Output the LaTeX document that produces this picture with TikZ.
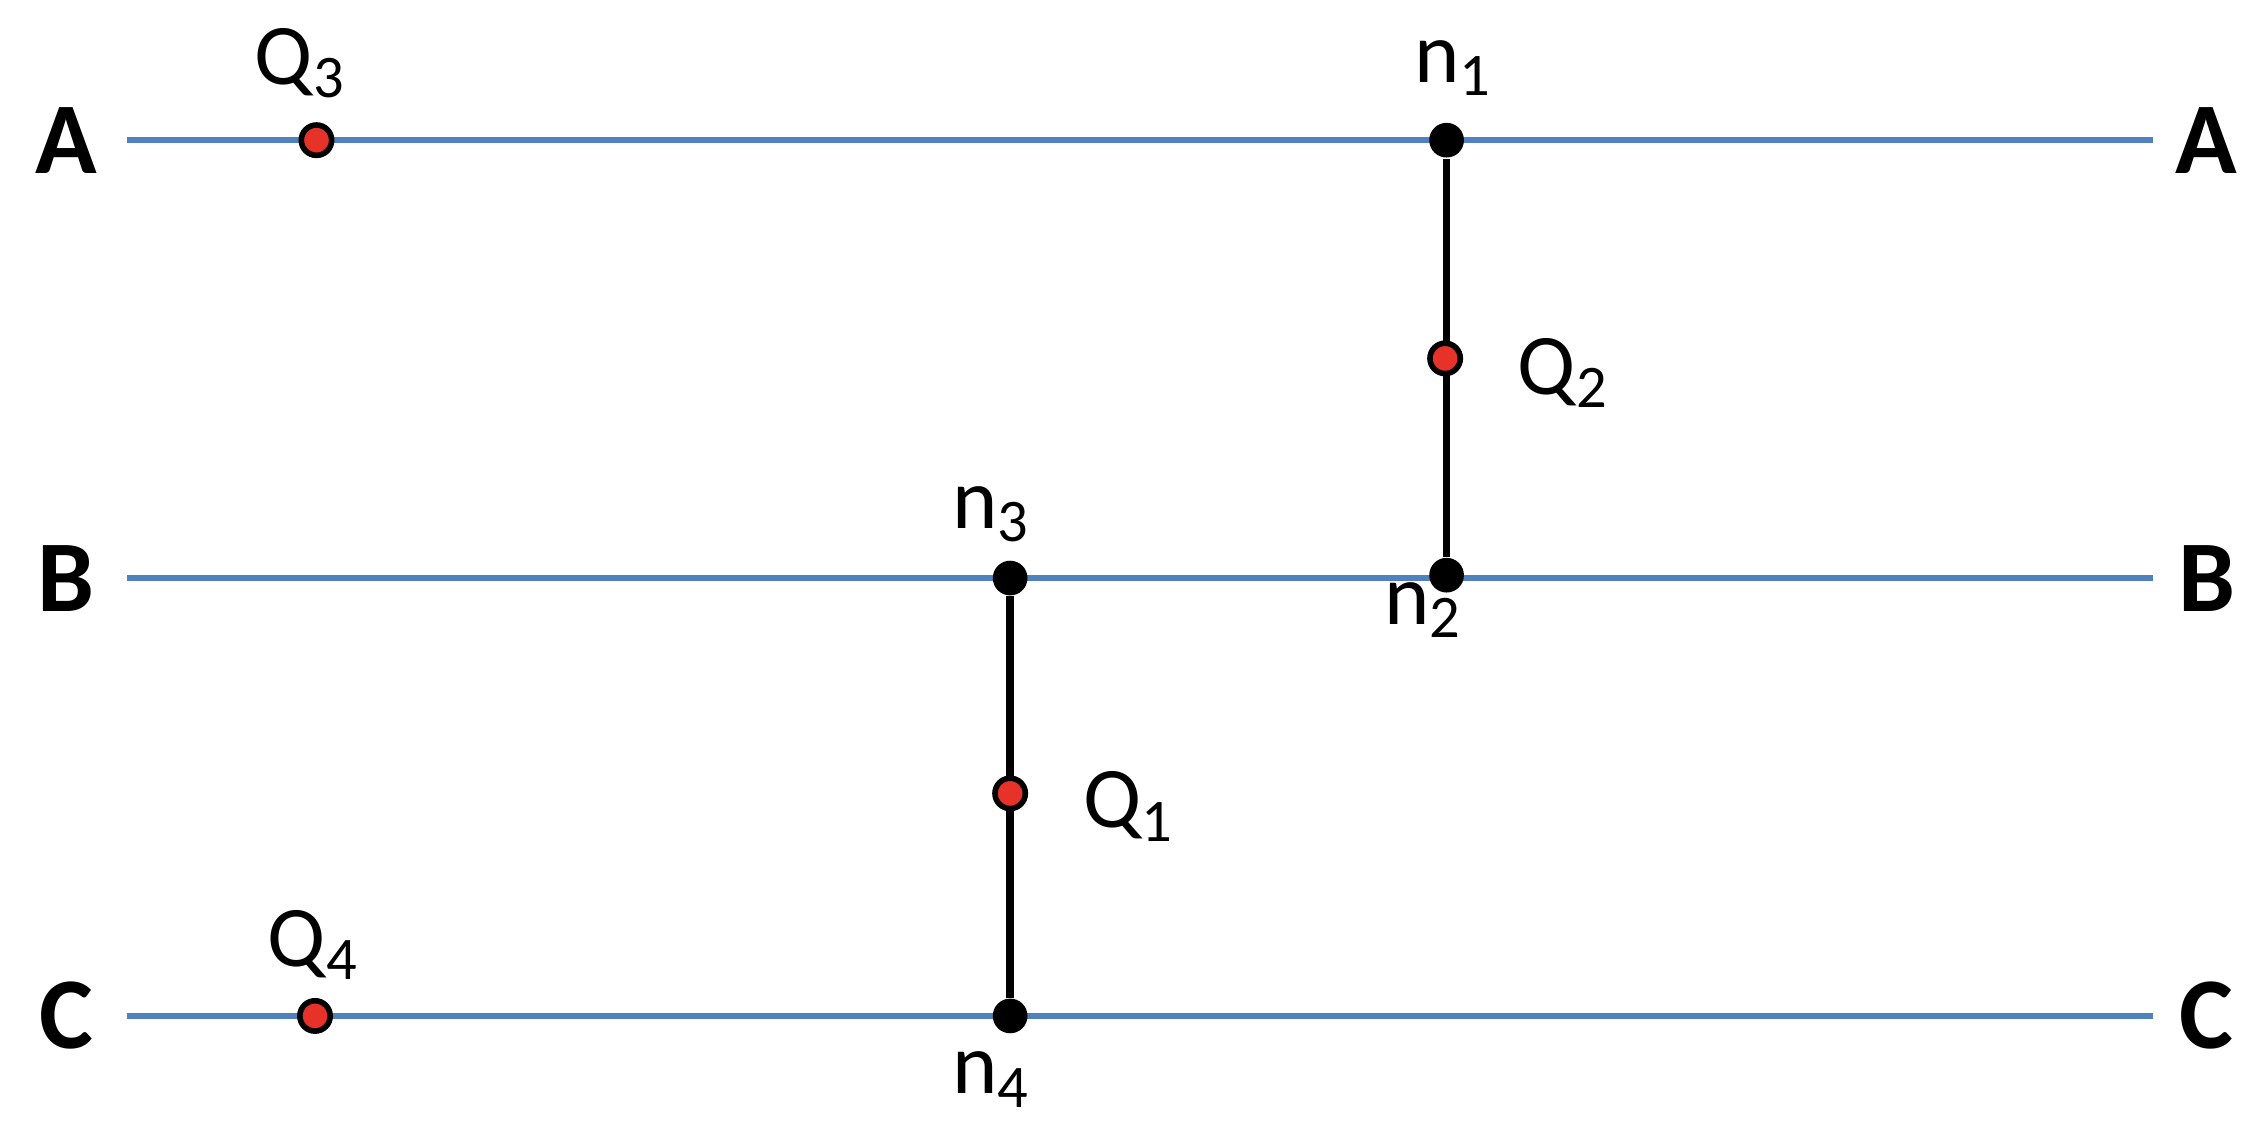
\documentclass[tikz,border=0pt]{standalone}
\usepackage{fontspec}
\setmainfont{Carlito}
\begin{document}
\begin{tikzpicture}[x=0.01cm,y=-0.01cm,
  bus/.style={line width=1.2pt,color={rgb,255:red,79;green,129;blue,189}},
  blk/.style={circle,fill=black,inner sep=0pt,minimum size=0.24cm},
  red/.style={circle,fill={rgb,255:red,230;green,50;blue,40},draw=black,line width=1.1pt,inner sep=0pt,minimum size=0.21cm},
  bl/.style={font=\fontsize{20}{24}\selectfont\bfseries},
  lb/.style={font=\fontsize{17}{20}\selectfont}]
\useasboundingbox (0,0) rectangle (1568,788);
\foreach \n/\y in {A/97,B/400,C/703}{
  \coordinate (L\n) at (88,\y); \coordinate (R\n) at (1490,\y);
  \draw[bus] (L\n) -- (R\n);
  \node[bl] (tl\n) at (46,\y) {\n};
  \node[bl] (tr\n) at (1527,\y) {\n};
}
\node[blk] (n1) at (1001,97) {};
\node[blk] (n2) at (1001,398) {};
\node[blk] (n3) at (699,400) {};
\node[blk] (n4) at (699,703) {};
\draw[line width=1.5pt] (n1) -- (n2);
\draw[line width=1.5pt] (n3) -- (n4);
\node[red] (q3) at (219,97) {};
\node[red] (q2) at (1000,248) {};
\node[red] (q1) at (699,549) {};
\node[red] (q4) at (218,703) {};
\node[lb] (lq3) at (208,44) {Q\textsubscript{3}};
\node[lb] (ln1) at (1006,47) {n\textsubscript{1}};
\node[lb] (lq2) at (1082,258) {Q\textsubscript{2}};
\node[lb] (ln3) at (686,356) {n\textsubscript{3}};
\node[lb] (ln2) at (985,422) {n\textsubscript{2}};
\node[lb] (lq1) at (781,558) {Q\textsubscript{1}};
\node[lb] (lq4) at (217,654) {Q\textsubscript{4}};
\node[lb] (ln4) at (686,747) {n\textsubscript{4}};
\end{tikzpicture}
\end{document}
